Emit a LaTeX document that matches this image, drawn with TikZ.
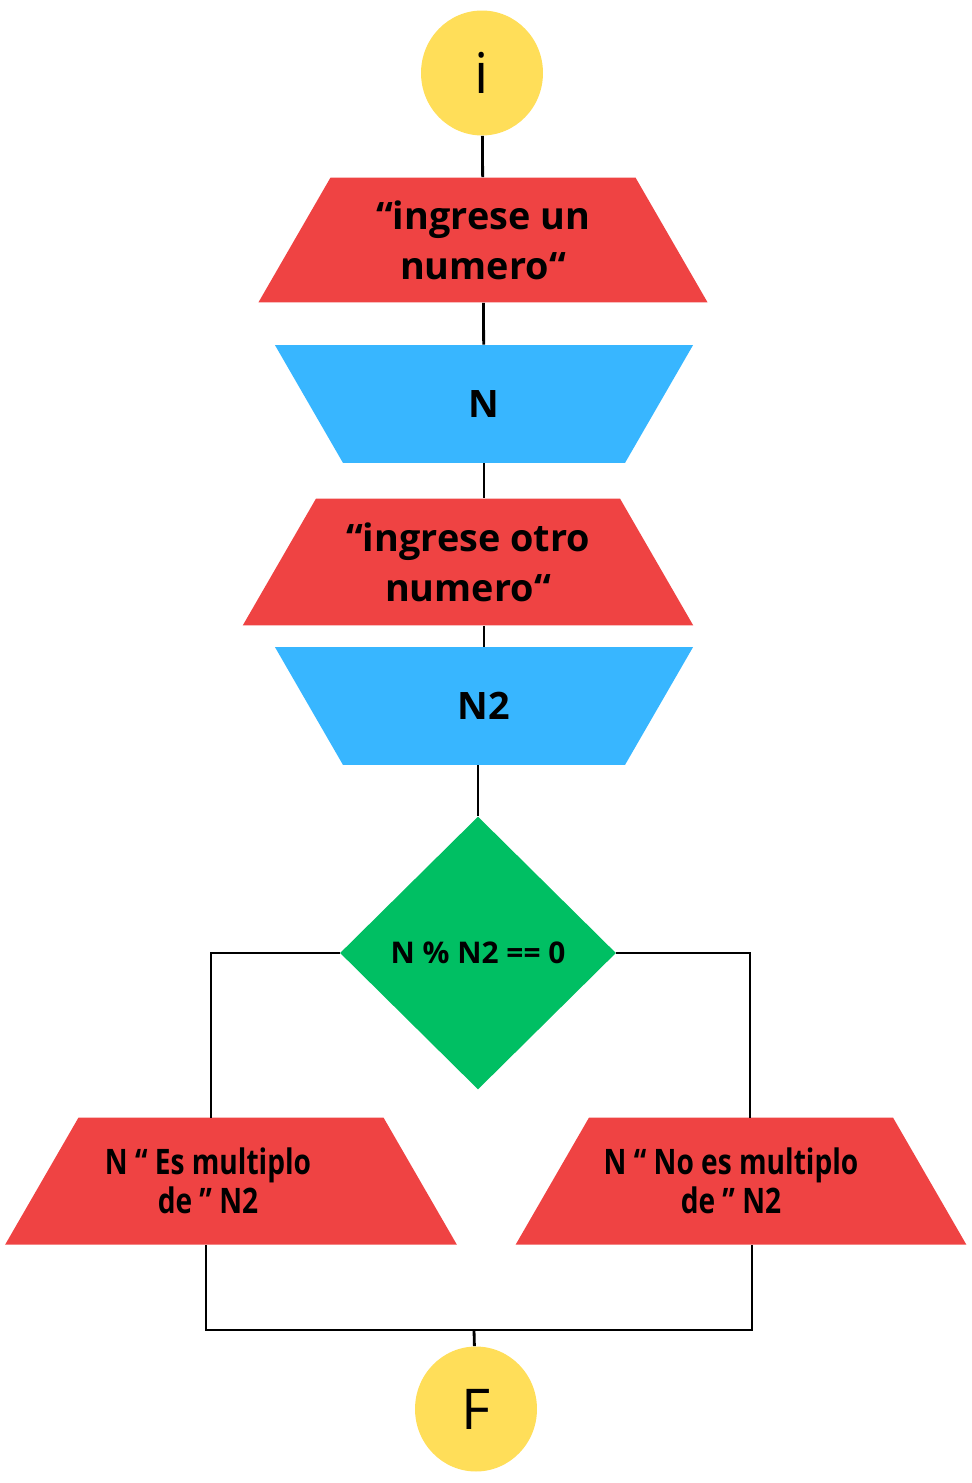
\documentclass[tikz,border=0pt]{standalone}
\usepackage{fontspec}
\setmainfont{Open Sans}
\newfontfamily\condfont[FakeStretch=0.8]{Open Sans}
\usetikzlibrary{shapes.geometric}

\definecolor{rojo}{HTML}{EF4343}
\definecolor{azul}{HTML}{38B6FF}
\definecolor{verde}{HTML}{00BF63}
\definecolor{amarillo}{HTML}{FFDE59}

% fixed text box: height, width, text
\newcommand{\caja}[3]{\parbox[c][#1][c]{#2}{\centering #3}}

\begin{document}
\begin{tikzpicture}[x=0.02cm, y=-0.02cm,
  terminal/.style={ellipse, fill=amarillo, inner sep=0pt, minimum width=2.44cm, minimum height=2.5cm, font=\fontsize{32}{36}\selectfont},
  salida/.style={trapezium, trapezium left angle=60, trapezium right angle=60, fill=rojo, inner sep=0pt},
  entrada/.style={trapezium, trapezium left angle=120, trapezium right angle=120, fill=azul, inner sep=0pt,
    font=\fontsize{21.5}{28}\selectfont\bfseries},
  decision/.style={diamond, fill=verde, inner sep=0pt, minimum width=5.52cm, minimum height=5.46cm,
    font=\fontsize{17}{20}\selectfont\bfseries},
  linea/.style={line width=1.6pt}]

\useasboundingbox (0,0) rectangle (971,1483);

% Start
\node[terminal] (inicio) at (482,73) {i};

% Read N
\node[salida, font=\fontsize{21.5}{28.5}\selectfont\bfseries] (msg1) at (483,240)
  {\caja{2.5cm}{6.1cm}{“ingrese un\\numero“}};
\node[entrada] (leerN) at (484,404) {\caja{2.36cm}{5.64cm}{N}};

% Read N2
\node[salida, font=\fontsize{21.5}{28.5}\selectfont\bfseries] (msg2) at (468,562)
  {\caja{2.54cm}{6.08cm}{“ingrese otro\\numero“}};
\node[entrada] (leerN2) at (484,706) {\caja{2.36cm}{5.64cm}{N2}};

% Condition
\node[decision] (cond) at (478,953) {N \% N2 == 0};

% Results
\node[salida, font=\fontsize{20}{22.5}\selectfont\condfont\bfseries] (si) at (231,1181)
  {\caja{2.54cm}{6.1cm}{\hspace*{-0.92cm}N “ Es multiplo\\\hspace*{-0.92cm}de ” N2}};
\node[salida, font=\fontsize{20}{22.5}\selectfont\condfont\bfseries] (no) at (741,1181)
  {\caja{2.54cm}{6.08cm}{\hspace*{-0.4cm}N “ No es multiplo\\\hspace*{-0.4cm}de ” N2}};

% End
\node[terminal] (fin) at (476,1409) {F};

% Branch ends
\coordinate (siTop) at (211,1118);
\coordinate (noTop) at (750,1118);
\coordinate (siBot) at (206,1245);
\coordinate (noBot) at (752,1245);
\coordinate (junta) at (474,1330);

% Connectors
\draw[linea] (inicio) -- (msg1);
\draw[linea] (msg1) -- (leerN);
\draw[linea] (leerN.south) -- (leerN.south |- msg2.north);
\draw[linea] (msg2.south -| leerN2.north) -- (leerN2.north);
\draw[linea] (cond.north) -- (cond.north |- leerN2.south);
\draw[linea] (cond.west) -| (siTop);
\draw[linea] (cond.east) -| (noTop);
\draw[linea] (siBot) |- (junta) -| (noBot);
\draw[linea] (junta) -- (fin);

\end{tikzpicture}
\end{document}
